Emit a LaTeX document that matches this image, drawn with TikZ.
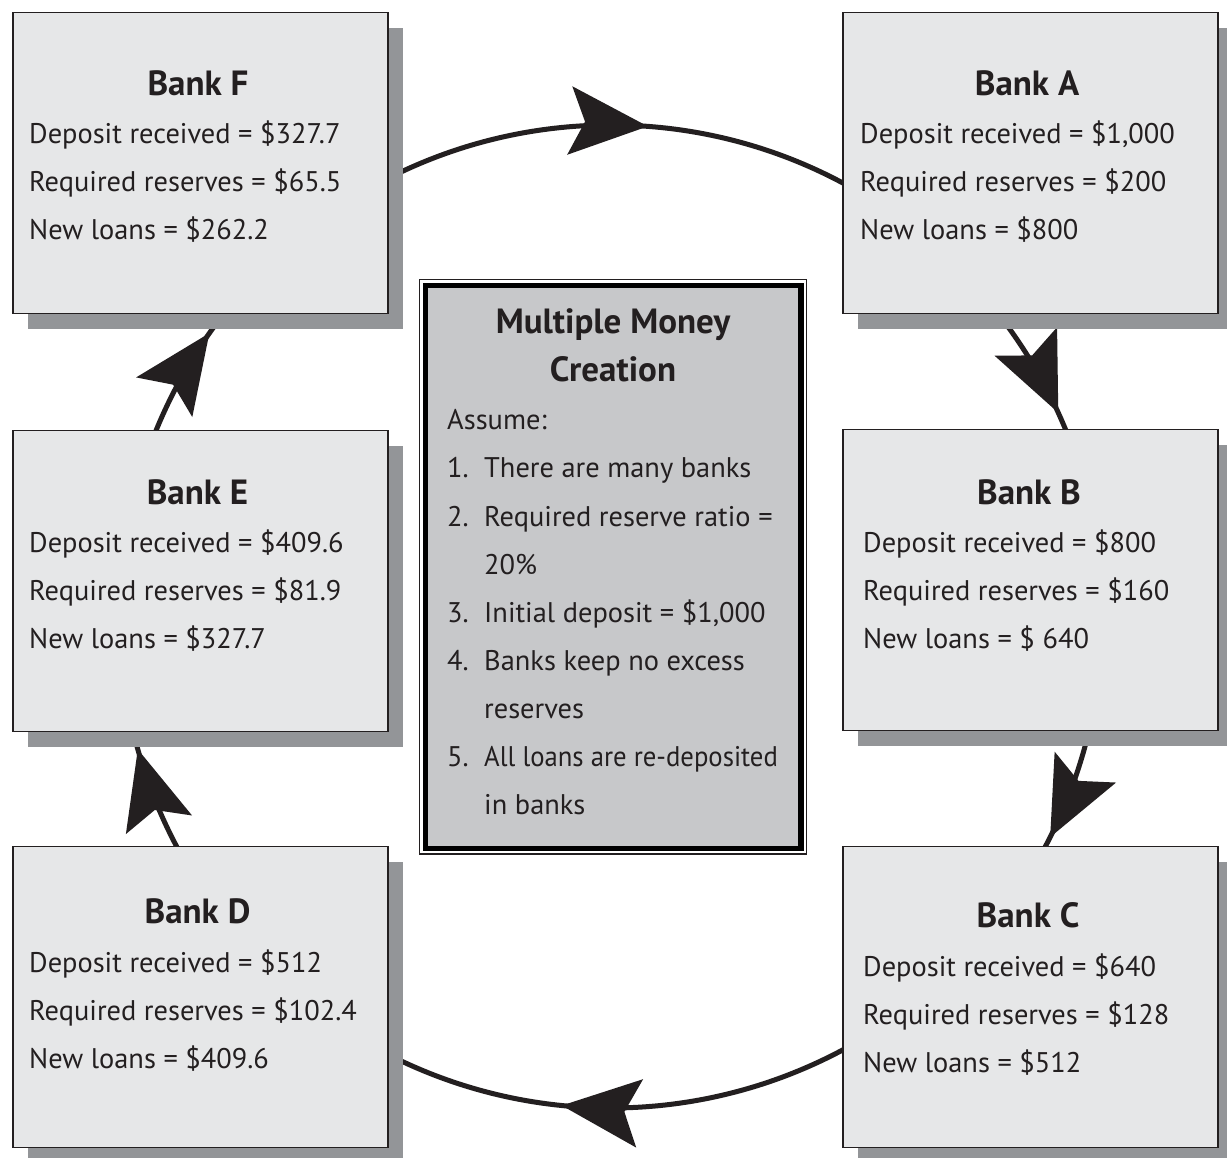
\documentclass[tikz,border=0pt]{standalone}
\usepackage{fontspec}
\usepackage{graphicx}
\setmainfont{PT Sans}
\usetikzlibrary{arrows.meta,decorations.markings,shadows}

\definecolor{ink}{HTML}{231F20}
\definecolor{boxfill}{HTML}{E6E7E8}
\definecolor{shade}{HTML}{939598}
\definecolor{panelfill}{HTML}{C7C8CA}

% one bank: box, bold title and three lines of figures
\newcommand\bankpanel[9]{%
  \node[bankbox] (#1) at (#2) {};
  \node[banktitle] (#1-title) at (#3) {#4};
  \node[bankline] (#1-dep) at (#5,#6) {#7};
  \node[bankline] (#1-req) at (#5,#6-48) {#8};
  \node[bankline] (#1-loan) at (#5,#6-96) {#9};
}

\begin{document}
\begin{tikzpicture}[x=1pt,y=1pt,
  bankbox/.style={draw=ink, line width=1.5pt, fill=boxfill,
    minimum width=375pt, minimum height=301pt, inner sep=0pt, anchor=north west,
    drop shadow={shadow xshift=15pt, shadow yshift=-15pt, fill=shade, opacity=1}},
  banktitle/.style={anchor=base, inner sep=0pt, text=ink,
    font=\fontsize{35}{35}\selectfont\bfseries},
  bankline/.style={anchor=base west, inner sep=0pt, text=ink,
    font=\fontsize{28.4}{28.4}\selectfont},
  flow/.style={draw=ink, line width=5pt},
  headarrow/.style={postaction={decorate}, decoration={markings,
    mark=at position #1 with {\arrow{Stealth[length=78pt,width=68pt,inset=15pt]}}}},
]
\def\R{491.5}
\useasboundingbox (0,0) rectangle (1227,1158);
\fill[white] (0,0) rectangle (1227,1158);

% the ring of deposits, drawn clockwise
\coordinate (O) at (611,541.5);
\coordinate (pF) at ([shift={(133:\R)}]O);
\coordinate (pA) at ([shift={(47:\R)}]O);
\coordinate (pB) at ([shift={(5:\R)}]O);
\coordinate (pC) at ([shift={(-42:\R)}]O);
\coordinate (pD) at ([shift={(-138:\R)}]O);
\coordinate (pE) at ([shift={(175:\R)}]O);

\draw[flow, headarrow=0.55]  (pF) arc[start angle=133, end angle=47, radius=\R];
\draw[flow, headarrow=0.536] (pA) arc[start angle=47, end angle=5, radius=\R];
\draw[flow, headarrow=0.674] (pB) arc[start angle=5, end angle=-42, radius=\R];
\draw[flow, headarrow=0.56]  (pC) arc[start angle=-42, end angle=-138, radius=\R];
\draw[flow, headarrow=0.56]  (pD) arc[start angle=222, end angle=175, radius=\R];
\draw[flow, headarrow=0.719] (pE) arc[start angle=175, end angle=133, radius=\R];

% banks
\bankpanel{F}{12,1146}{198,1062}{Bank F}{29}{1014.5}
  {Deposit received = \$327.7}{Required reserves = \$65.5}{New loans = \$262.2}
\bankpanel{A}{842,1146}{1027,1062}{Bank A}{860}{1014.5}
  {Deposit received = \$1,000}{Required reserves = \$200}{New loans = \$800}
\bankpanel{E}{12,728}{197.5,653}{Bank E}{29}{605.5}
  {Deposit received = \$409.6}{Required reserves = \$81.9}{New loans = \$327.7}
\bankpanel{B}{842,729}{1029,653}{Bank B}{863}{605.5}
  {Deposit received = \$800}{Required reserves = \$160}{New loans = \$ 640}
\bankpanel{D}{12,312}{197.5,234}{Bank D}{29}{185.5}
  {Deposit received = \$512}{Required reserves = \$102.4}{New loans = \$409.6}
\bankpanel{C}{842,312}{1028,230}{Bank C}{863}{181.5}
  {Deposit received = \$640}{Required reserves = \$128}{New loans = \$512}

% central panel of assumptions
\node[draw=ink, line width=1.5pt, minimum width=387pt, minimum height=574.5pt,
  inner sep=0pt] (frame) at (613,591.25) {};
\node[draw=black, line width=5.5pt, fill=panelfill, minimum width=375.5pt,
  minimum height=563pt, inner sep=0pt] (panel) at (613.25,591) {};

\node[banktitle] (head1) at (613,824) {Multiple Money};
\node[banktitle] (head2) at (613,776) {Creation};
\node[bankline] (assume) at (447,728.5) {Assume:};
\node[bankline] (n1) at (447,680.5) {1.};
\node[bankline] (i1) at (484,680.5) {There are many banks};
\node[bankline] (n2) at (447,631.5) {2.};
\node[bankline] (i2) at (484,631.5) {Required reserve ratio =};
\node[bankline] (i2b) at (484,583.5) {20\%};
\node[bankline] (n3) at (447,535.5) {3.};
\node[bankline] (i3) at (484,535.5) {Initial deposit = \$1,000};
\node[bankline] (n4) at (447,487.5) {4.};
\node[bankline] (i4) at (484,487.5) {Banks keep no excess};
\node[bankline] (i4b) at (484,439.5) {reserves};
\node[bankline] (n5) at (447,391.5) {5.};
\node[bankline] (i5) at (484,391.5) {\scalebox{0.94}[1]{All loans are re-deposited}};
\node[bankline] (i5b) at (484,343.5) {in banks};
\end{tikzpicture}
\end{document}
